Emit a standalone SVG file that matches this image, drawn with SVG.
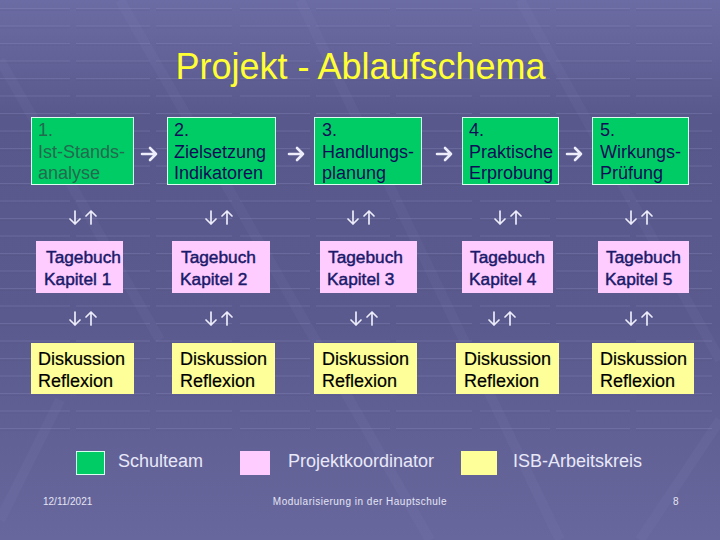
<svg xmlns="http://www.w3.org/2000/svg" width="720" height="540" viewBox="0 0 720 540">
<defs>
<linearGradient id="bg" x1="0" y1="0" x2="0" y2="1">
<stop offset="0" stop-color="#6c6ca4"/>
<stop offset="0.22" stop-color="#58588c"/>
<stop offset="0.6" stop-color="#5a5a8e"/>
<stop offset="1" stop-color="#67679d"/>
</linearGradient>
<pattern id="stripes" x="0" y="8" width="240" height="17.5" patternUnits="userSpaceOnUse">
<path d="M0 0.5H70M76 0.5H150M156 0.5H232" stroke="#8a8ac0" stroke-width="1.6" opacity="0.55"/>
<path d="M0 2H70M76 2H150M156 2H232" stroke="#44446e" stroke-width="1" opacity="0.35"/>
</pattern>
<g id="ud" fill="none" stroke="#ececfa" stroke-width="1.7" stroke-linecap="round" stroke-linejoin="round">
<path d="M-8 -6.5V6.5M-13 1.5L-8 6.5L-3 1.5"/>
<path d="M8 6.5V-6.5M3 -1.5L8 -6.5L13 -1.5"/>
</g>
<g id="ra" fill="none" stroke="#ececfa" stroke-width="2.6" stroke-linecap="round" stroke-linejoin="round">
<path d="M-7 0H7M1 -6L7 0L1 6"/>
</g>
</defs>
<style>
.g{fill:#00cc66;stroke:#d8fff0;stroke-width:1}
.p{fill:#ffccff}
.y{fill:#ffff99}
.tg{font-family:"Liberation Sans",Arial,sans-serif;font-size:18px;fill:#0c0c58}
.tg1{font-family:"Liberation Sans",Arial,sans-serif;font-size:18px;fill:#236a4e}
.tp{font-family:"Liberation Sans",Arial,sans-serif;font-size:17.3px;fill:#1a1a6a;stroke:#1a1a6a;stroke-width:0.45}
.ty{font-family:"Liberation Sans",Arial,sans-serif;font-size:18px;fill:#000000;stroke:#000000;stroke-width:0.2}
.lg{font-family:"Liberation Sans",Arial,sans-serif;font-size:18px;fill:#e8e8f8}
.ft{font-family:"Liberation Sans",Arial,sans-serif;font-size:10px;fill:#e4e4f4}
</style>
<rect width="720" height="540" fill="url(#bg)"/>
<rect x="0" y="8" width="720" height="430" fill="url(#stripes)" opacity="0.6"/>
<g stroke="#9a9ad0" stroke-width="10" opacity="0.07" fill="none">
<path d="M0 60L160 340"/>
<path d="M120 0L430 540"/>
<path d="M300 0L560 540"/>
<path d="M520 0L720 360"/>
<path d="M640 540L720 420"/>
<path d="M0 520L60 400"/>
</g>
<text x="360.5" y="79" text-anchor="middle" font-family="Liberation Sans, Arial, sans-serif" font-size="36" fill="#ffff33">Projekt - Ablaufschema</text>
<g id="connectors">
<use href="#ra" x="149" y="154"/>
<use href="#ra" x="296" y="154"/>
<use href="#ra" x="444" y="154"/>
<use href="#ra" x="574" y="154"/>
<use href="#ud" x="83" y="217.5"/>
<use href="#ud" x="219" y="217.5"/>
<use href="#ud" x="361" y="217.5"/>
<use href="#ud" x="508" y="217.5"/>
<use href="#ud" x="639" y="217.5"/>
<use href="#ud" x="83" y="318.5"/>
<use href="#ud" x="219" y="318.5"/>
<use href="#ud" x="364" y="318.5"/>
<use href="#ud" x="502" y="318.5"/>
<use href="#ud" x="639" y="318.5"/>
</g>
<g id="step1"><rect class="g" x="31.5" y="117.5" width="102" height="67"/>
<text class="tg1" x="38" y="136">1.</text><text class="tg1" x="38" y="158">Ist-Stands-</text><text class="tg1" x="38" y="179">analyse</text></g>
<g id="step2"><rect class="g" x="167.5" y="117.5" width="108" height="67"/>
<text class="tg" x="174" y="136">2.</text><text class="tg" x="174" y="158">Zielsetzung</text><text class="tg" x="174" y="179">Indikatoren</text></g>
<g id="step3"><rect class="g" x="314.5" y="117.5" width="107" height="67"/>
<text class="tg" x="322" y="136">3.</text><text class="tg" x="322" y="158">Handlungs-</text><text class="tg" x="322" y="179">planung</text></g>
<g id="step4"><rect class="g" x="462.5" y="117.5" width="96" height="67"/>
<text class="tg" x="469" y="136">4.</text><text class="tg" x="469" y="158">Praktische</text><text class="tg" x="469" y="179">Erprobung</text></g>
<g id="step5"><rect class="g" x="592.5" y="117.5" width="96" height="67"/>
<text class="tg" x="600" y="136">5.</text><text class="tg" x="600" y="158">Wirkungs-</text><text class="tg" x="600" y="179">Prüfung</text></g>
<g id="tagebuch1"><rect class="p" x="36" y="241" width="87" height="52"/>
<text class="tp" x="46" y="263">Tagebuch</text><text class="tp" x="44" y="285">Kapitel 1</text></g>
<g id="tagebuch2"><rect class="p" x="172" y="241" width="98" height="52"/>
<text class="tp" x="181" y="263">Tagebuch</text><text class="tp" x="180" y="285">Kapitel 2</text></g>
<g id="tagebuch3"><rect class="p" x="320" y="241" width="97" height="52"/>
<text class="tp" x="328" y="263">Tagebuch</text><text class="tp" x="327" y="285">Kapitel 3</text></g>
<g id="tagebuch4"><rect class="p" x="462" y="241" width="91" height="52"/>
<text class="tp" x="470" y="263">Tagebuch</text><text class="tp" x="469" y="285">Kapitel 4</text></g>
<g id="tagebuch5"><rect class="p" x="598" y="241" width="91" height="52"/>
<text class="tp" x="606" y="263">Tagebuch</text><text class="tp" x="605" y="285">Kapitel 5</text></g>
<g id="diskussion1"><rect class="y" x="31" y="343" width="103" height="51"/>
<text class="ty" x="38" y="365">Diskussion</text><text class="ty" x="38" y="387">Reflexion</text></g>
<g id="diskussion2"><rect class="y" x="172" y="343" width="103" height="51"/>
<text class="ty" x="180" y="365">Diskussion</text><text class="ty" x="180" y="387">Reflexion</text></g>
<g id="diskussion3"><rect class="y" x="314" y="343" width="103" height="51"/>
<text class="ty" x="322" y="365">Diskussion</text><text class="ty" x="322" y="387">Reflexion</text></g>
<g id="diskussion4"><rect class="y" x="456" y="343" width="103" height="51"/>
<text class="ty" x="464" y="365">Diskussion</text><text class="ty" x="464" y="387">Reflexion</text></g>
<g id="diskussion5"><rect class="y" x="592" y="343" width="102" height="51"/>
<text class="ty" x="600" y="365">Diskussion</text><text class="ty" x="600" y="387">Reflexion</text></g>
<g id="legend">
<rect class="g" x="76.5" y="451.5" width="28" height="23" stroke="#e8fff4"/>
<text class="lg" x="118" y="467">Schulteam</text>
<rect class="p" x="240" y="451" width="30" height="24"/>
<text class="lg" x="288" y="467">Projektkoordinator</text>
<rect class="y" x="461" y="451" width="36" height="24"/>
<text class="lg" x="513" y="467">ISB-Arbeitskreis</text>
</g>
<g id="footer">
<text class="ft" x="43" y="505">12/11/2021</text>
<text class="ft" x="360" y="505" text-anchor="middle" font-size="9" letter-spacing="0.5">Modularisierung in der Hauptschule</text>
<text class="ft" x="673" y="505">8</text>
</g>
</svg>
